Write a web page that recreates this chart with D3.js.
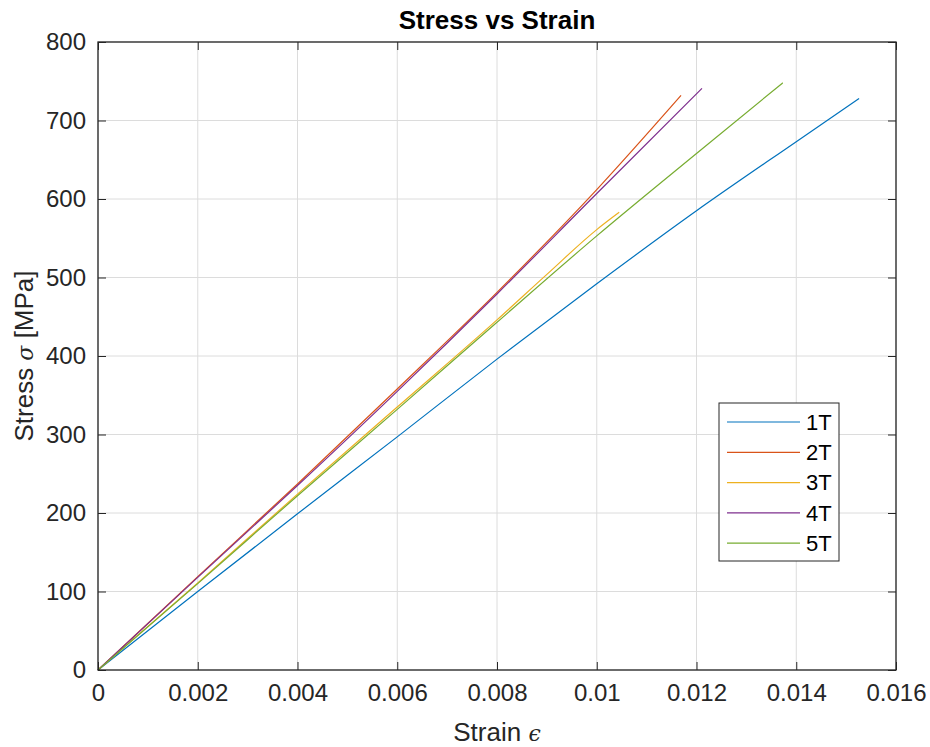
<!DOCTYPE html>
<html>
<head>
<meta charset="utf-8">
<script src="https://cdn.jsdelivr.net/npm/d3@7"></script>
<style>
  body { margin: 0; background: #fff; }
  svg { display: block; font-family: "Liberation Sans", Arial, Helvetica, sans-serif; }
</style>
</head>
<body>
<div id="chart"></div>
<script>
// values
const SERIES_NAMES = ["1T", "2T", "3T", "4T", "5T"];
const SERIES_COLORS = ["#0072BD", "#D95319", "#EDB120", "#7E2F8E", "#77AC30"];

const strain1T = [0, 0.002, 0.004, 0.006, 0.008, 0.010, 0.012, 0.014, 0.01526];
const stress1T = [0, 100, 199, 297, 396, 492, 585, 673, 728];

const strain2T = [0, 0.002, 0.004, 0.006, 0.008, 0.010, 0.01169];
const stress2T = [0, 119, 237, 358, 481, 612, 732];

const strain3T = [0, 0.002, 0.004, 0.006, 0.008, 0.009, 0.010, 0.01045];
const stress3T = [0, 111, 224, 335, 446, 504, 561, 583];

const strain4T = [0, 0.002, 0.004, 0.006, 0.008, 0.010, 0.01211];
const stress4T = [0, 118, 235, 355, 479, 607, 741];

const strain5T = [0, 0.002, 0.004, 0.006, 0.008, 0.010, 0.012, 0.01373];
const stress5T = [0, 110, 222, 332, 443, 553, 658, 748];

const X_TICKS = [0, 0.002, 0.004, 0.006, 0.008, 0.01, 0.012, 0.014, 0.016];
const Y_TICKS = [0, 100, 200, 300, 400, 500, 600, 700, 800];

const W = 930, H = 747;
const margin = { top: 42, right: 34, bottom: 77, left: 98 };
const innerW = W - margin.left - margin.right;
const innerH = H - margin.top - margin.bottom;

const series = [
  [strain1T, stress1T], [strain2T, stress2T], [strain3T, stress3T],
  [strain4T, stress4T], [strain5T, stress5T]
].map(([xs, ys], i) => ({
  name: SERIES_NAMES[i],
  color: SERIES_COLORS[i],
  points: xs.map((v, j) => [v, ys[j]])
}));

const svg = d3.select("#chart").append("svg")
  .attr("width", W).attr("height", H);

const g = svg.append("g").attr("transform", `translate(${margin.left},${margin.top})`);

const x = d3.scaleLinear().domain([0, 0.016]).range([0, innerW]);
const y = d3.scaleLinear().domain([0, 800]).range([innerH, 0]);

const axisColor = "#262626";
const fmtX = d => String(+d.toFixed(3));

// grid
g.append("g").selectAll("line").data(X_TICKS).join("line")
  .attr("x1", d => x(d)).attr("x2", d => x(d))
  .attr("y1", 0).attr("y2", innerH)
  .attr("stroke", "#dcdcdc").attr("stroke-width", 1);
g.append("g").selectAll("line").data(Y_TICKS).join("line")
  .attr("x1", 0).attr("x2", innerW)
  .attr("y1", d => y(d)).attr("y2", d => y(d))
  .attr("stroke", "#dcdcdc").attr("stroke-width", 1);

// lines
const line = d3.line().x(d => x(d[0])).y(d => y(d[1])).curve(d3.curveMonotoneX);
g.append("g").selectAll("path").data(series).join("path")
  .attr("d", d => line(d.points))
  .attr("fill", "none")
  .attr("stroke", d => d.color)
  .attr("stroke-width", 1.2);

// axes, ticks inward on all four sides
function styleAxis(sel) {
  sel.select(".domain").remove();
  sel.selectAll(".tick line").attr("stroke", axisColor);
  sel.selectAll(".tick text").attr("fill", axisColor)
    .attr("font-size", 24).attr("font-family", "Liberation Sans, Arial, sans-serif");
}

g.append("g").attr("transform", `translate(0,${innerH})`)
  .call(d3.axisBottom(x).tickValues(X_TICKS).tickFormat(fmtX).tickSize(-8).tickPadding(14))
  .call(styleAxis);
g.append("g")
  .call(d3.axisTop(x).tickValues(X_TICKS).tickFormat("").tickSize(-8))
  .call(styleAxis);
g.append("g")
  .call(d3.axisLeft(y).tickValues(Y_TICKS).tickSize(-8).tickPadding(12))
  .call(styleAxis);
g.append("g").attr("transform", `translate(${innerW},0)`)
  .call(d3.axisRight(y).tickValues(Y_TICKS).tickFormat("").tickSize(-8))
  .call(styleAxis);

g.append("rect")
  .attr("width", innerW).attr("height", innerH)
  .attr("fill", "none").attr("stroke", axisColor).attr("stroke-width", 1.3);

// title and labels
svg.append("text")
  .attr("x", margin.left + innerW / 2).attr("y", 29)
  .attr("text-anchor", "middle")
  .attr("font-size", 26).attr("font-weight", "bold").attr("fill", "#000")
  .text("Stress vs Strain");

const xl = svg.append("text")
  .attr("x", margin.left + innerW / 2).attr("y", 741)
  .attr("text-anchor", "middle")
  .attr("font-size", 26).attr("fill", axisColor);
xl.append("tspan").text("Strain ");
xl.append("tspan").attr("font-style", "italic").attr("font-family", "DejaVu Serif, serif")
  .attr("font-size", 22).text("ϵ");

const yl = svg.append("text")
  .attr("transform", `translate(33,${margin.top + innerH / 2}) rotate(-90)`)
  .attr("text-anchor", "middle")
  .attr("font-size", 26).attr("fill", axisColor);
yl.append("tspan").text("Stress ");
yl.append("tspan").attr("font-style", "italic").attr("font-family", "DejaVu Serif, serif")
  .attr("font-size", 22).text("σ");
yl.append("tspan").text(" [MPa]");

// legend
const lg = svg.append("g").attr("transform", "translate(719,403)");
lg.append("rect")
  .attr("width", 120).attr("height", 158)
  .attr("fill", "#fff").attr("stroke", axisColor).attr("stroke-width", 1);
const item = lg.selectAll("g").data(series).join("g")
  .attr("transform", (d, i) => `translate(0,${19 + i * 30.3})`);
item.append("line")
  .attr("x1", 8).attr("x2", 81)
  .attr("stroke", d => d.color).attr("stroke-width", 1.2);
item.append("text")
  .attr("x", 87).attr("dy", "0.35em")
  .attr("font-size", 22).attr("fill", "#000")
  .text(d => d.name);
</script>
</body>
</html>
